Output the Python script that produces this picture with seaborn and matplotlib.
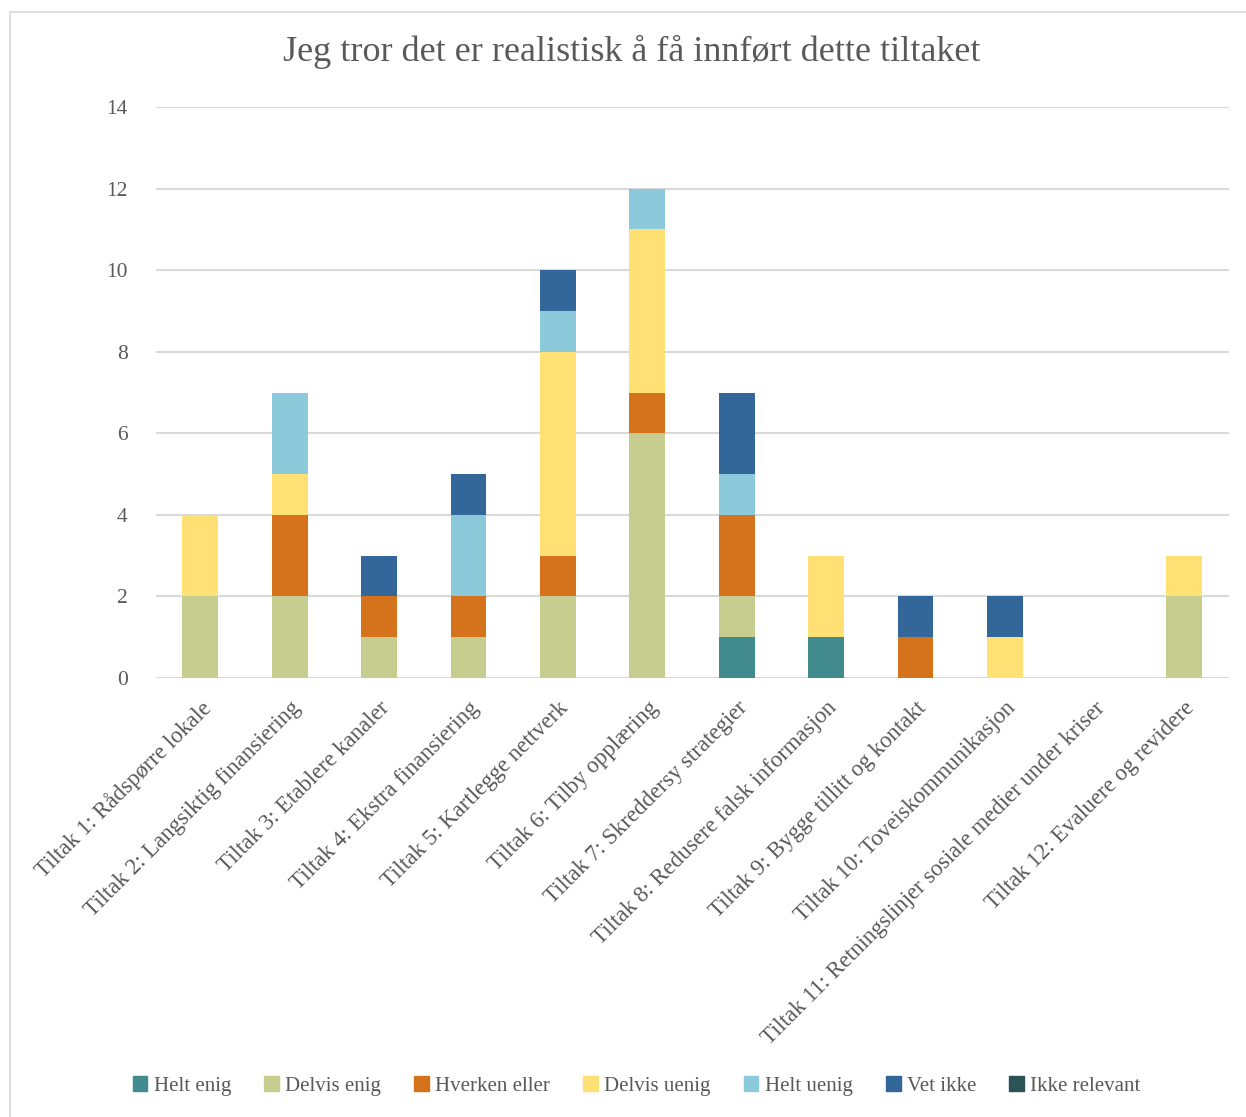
import pandas as pd
import matplotlib.pyplot as plt
import matplotlib.patches as mpatches
import seaborn as sns

# Data
tiltak = [
    'Tiltak 1: Rådspørre lokale',
    'Tiltak 2: Langsiktig finansiering',
    'Tiltak 3: Etablere kanaler',
    'Tiltak 4: Ekstra finansiering',
    'Tiltak 5: Kartlegge nettverk',
    'Tiltak 6: Tilby opplæring',
    'Tiltak 7: Skreddersy strategier',
    'Tiltak 8: Redusere falsk informasjon',
    'Tiltak 9: Bygge tillitt og kontakt',
    'Tiltak 10: Toveiskommunikasjon',
    'Tiltak 11: Retningslinjer sosiale medier under kriser',
    'Tiltak 12: Evaluere og revidere',
]
svar = ['Helt enig', 'Delvis enig', 'Hverken eller', 'Delvis uenig',
        'Helt uenig', 'Vet ikke', 'Ikke relevant']
helt_enig = [0, 0, 0, 0, 0, 0, 1, 1, 0, 0, 0, 0]
delvis_enig = [2, 2, 1, 1, 2, 6, 1, 0, 0, 0, 0, 2]
hverken_eller = [0, 2, 1, 1, 1, 1, 2, 0, 1, 0, 0, 0]
delvis_uenig = [2, 1, 0, 0, 5, 4, 0, 2, 0, 1, 0, 1]
helt_uenig = [0, 2, 0, 2, 1, 1, 1, 0, 0, 0, 0, 0]
vet_ikke = [0, 0, 1, 1, 1, 0, 2, 0, 1, 1, 0, 0]
ikke_relevant = [0, 0, 0, 0, 0, 0, 0, 0, 0, 0, 0, 0]
farger = ['#418A8E', '#C7CC8F', '#D4731B', '#FFE074', '#8CC9DB', '#336699', '#2A5257']

serier = [helt_enig, delvis_enig, hverken_eller, delvis_uenig,
          helt_uenig, vet_ikke, ikke_relevant]
rows = []
for s, vals in zip(svar, serier):
    for t, v in zip(tiltak, vals):
        rows.append({'Tiltak': t, 'Svar': s, 'Antall': v})
df = pd.DataFrame(rows)

sns.set_style('white')
plt.rcParams['font.family'] = ['Liberation Serif', 'DejaVu Serif']
tekst = '#595959'

fig = plt.figure(figsize=(12.46, 11.17), dpi=100)
fig.patches.append(mpatches.Rectangle((10 / 1246, -0.01), 1.02, 1 - 12 / 1117 + 0.01,
                                      transform=fig.transFigure, fill=False,
                                      edgecolor='#D9D9D9', linewidth=1.2))
ax = fig.add_axes([155.5 / 1246, 1 - 678 / 1117, 1073 / 1246, 571 / 1117])

# stacked bars, first answer at the bottom
sns.histplot(data=df, x='Tiltak', weights='Antall', hue='Svar',
             hue_order=svar[::-1], palette=dict(zip(svar, farger)),
             multiple='stack', discrete=True, shrink=0.4, alpha=1,
             linewidth=0, legend=False, ax=ax)

ax.set_xlim(-0.5, 11.5)
ax.set_ylim(0, 14)
ax.set_yticks(range(0, 15, 2))
ax.yaxis.grid(True, color='#D9D9D9', linewidth=1.5)
ax.set_axisbelow(True)
for sp in ax.spines.values():
    sp.set_visible(False)
ax.set_xlabel('')
ax.set_ylabel('')
ax.set_xticks(range(len(tiltak)))
ax.set_xticklabels(tiltak, rotation=45, ha='right', rotation_mode='anchor',
                   fontsize=16.5, color=tekst)
ax.tick_params(axis='y', length=0, labelsize=15.5, labelcolor=tekst, pad=20)
ax.tick_params(axis='x', length=0, labelcolor=tekst, pad=14)

fig.text(0.507, 1 - 52 / 1117, 'Jeg tror det er realistisk å få innført dette tiltaket',
         ha='center', va='center', fontsize=26, color=tekst)

handles = [mpatches.Patch(color=c, label=s) for s, c in zip(svar, farger)]
fig.legend(handles=handles, loc='center', bbox_to_anchor=(0.511, 1 - 1086 / 1117),
           ncol=7, frameon=False, fontsize=15, handlelength=0.7, handleheight=0.7,
           handletextpad=0.3, columnspacing=1.6, labelcolor=tekst)

fig.savefig('out.png', dpi=100)
